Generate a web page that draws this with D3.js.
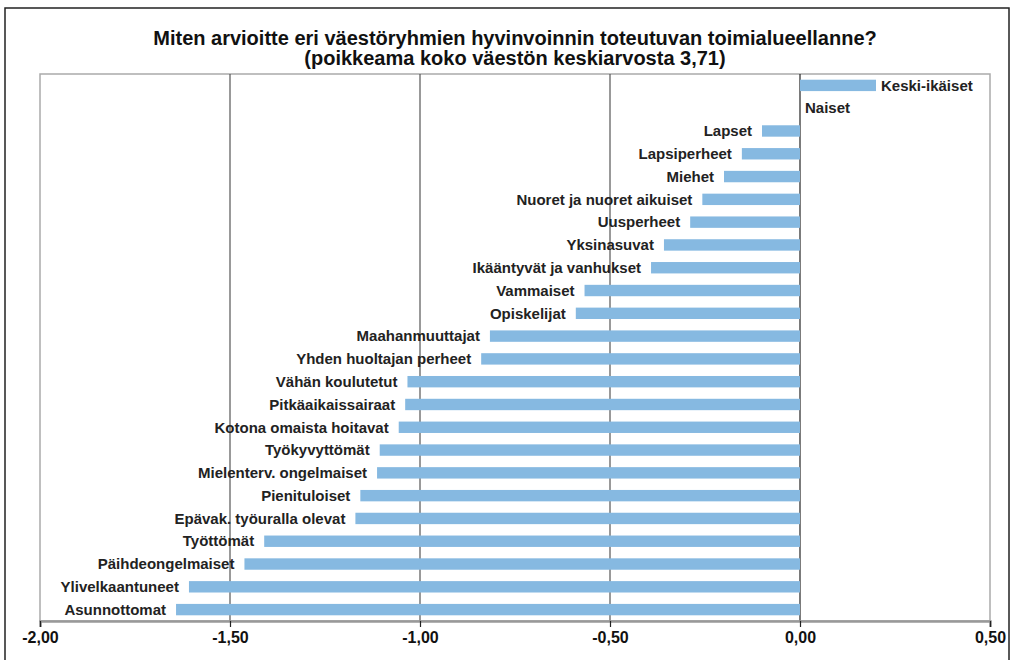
<!DOCTYPE html>
<html>
<head>
<meta charset="utf-8">
<title>Väestöryhmät</title>
<script src="https://d3js.org/d3.v7.min.js"></script>
<style>
body { margin: 0; background: #fff; }
svg { display: block; }
</style>
</head>
<body>
<svg width="1013" height="660"></svg>
<script>
// categories, top to bottom
var groups = ["Keski-ikäiset", "Naiset", "Lapset", "Lapsiperheet", "Miehet",
  "Nuoret ja nuoret aikuiset", "Uusperheet", "Yksinasuvat", "Ikääntyvät ja vanhukset",
  "Vammaiset", "Opiskelijat", "Maahanmuuttajat", "Yhden huoltajan perheet",
  "Vähän koulutetut", "Pitkäaikaissairaat", "Kotona omaista hoitavat", "Työkyvyttömät",
  "Mielenterv. ongelmaiset", "Pienituloiset", "Epävak. työuralla olevat", "Työttömät",
  "Päihdeongelmaiset", "Ylivelkaantuneet", "Asunnottomat"];
// deviation from population mean 3,71
var deviation = [0.20, 0.00, -0.10, -0.153, -0.20,
  -0.257, -0.289, -0.358, -0.392,
  -0.567, -0.590, -0.816, -0.839,
  -1.033, -1.039, -1.056, -1.106,
  -1.113, -1.157, -1.170, -1.410,
  -1.462, -1.608, -1.642];
var ticks = [-2.0, -1.5, -1.0, -0.5, 0.0, 0.5];
var titleLines = ["Miten arvioitte eri väestöryhmien hyvinvoinnin toteutuvan toimialueellanne?",
  "(poikkeama koko väestön keskiarvosta 3,71)"];

var svg = d3.select("svg");
var pLeft = 40, pRight = 990, pTop = 74, pBottom = 621;

// outer frame
svg.append("rect").attr("x", 5).attr("y", 8).attr("width", 1004).attr("height", 700)
  .attr("fill", "none").attr("stroke", "#222").attr("stroke-width", 1.5);

svg.selectAll("text.title").data(titleLines).enter().append("text")
  .attr("class", "title")
  .attr("x", 515).attr("y", function(d, i) { return 45 + i * 20; })
  .attr("text-anchor", "middle")
  .style("font-family", "'Liberation Sans', Arial, sans-serif")
  .style("font-weight", "bold").style("font-size", "20px").style("fill", "#111")
  .text(function(d) { return d; });

var x = d3.scaleLinear().domain([-2, 0.5]).range([pLeft, pRight]);
var y = d3.scaleBand().domain(groups).range([pTop, pBottom]).paddingInner(0.5).paddingOuter(0.25);

// plot box
svg.append("rect").attr("x", pLeft).attr("y", pTop).attr("width", pRight - pLeft).attr("height", pBottom - pTop)
  .attr("fill", "none").attr("stroke", "#aaa").attr("stroke-width", 1.5);

// gridlines
svg.selectAll("line.grid").data(ticks.filter(function(t) { return t > -2 && t < 0.5; })).enter()
  .append("line").attr("class", "grid")
  .attr("x1", function(d) { return x(d); }).attr("x2", function(d) { return x(d); })
  .attr("y1", pTop).attr("y2", pBottom)
  .attr("stroke", function(d) { return d === 0 ? "#222" : "#555"; })
  .attr("stroke-width", 1.2);

// bars
svg.selectAll("rect.bar").data(groups).enter().append("rect")
  .attr("class", "bar")
  .attr("x", function(d, i) { return x(Math.min(0, deviation[i])); })
  .attr("width", function(d, i) { return Math.abs(x(deviation[i]) - x(0)); })
  .attr("y", function(d) { return y(d); })
  .attr("height", y.bandwidth())
  .attr("fill", "#86b9e1");

// labels
svg.selectAll("text.lab").data(groups).enter().append("text")
  .attr("class", "lab")
  .attr("x", function(d, i) { return deviation[i] >= 0 ? x(deviation[i]) + 5 : x(deviation[i]) - 10; })
  .attr("y", function(d) { return y(d) + y.bandwidth() / 2; })
  .attr("dy", "0.35em")
  .attr("text-anchor", function(d, i) { return deviation[i] >= 0 ? "start" : "end"; })
  .style("font-family", "'Liberation Sans', Arial, sans-serif")
  .style("font-weight", "bold").style("font-size", "15px").style("fill", "#222")
  .text(function(d) { return d; });

// x axis
var axis = d3.axisBottom(x).tickValues(ticks).tickSize(6)
  .tickFormat(function(d) { return d3.format(".2f")(d).replace(".", ",").replace("−", "-"); });
var g = svg.append("g").attr("transform", "translate(0," + pBottom + ")").call(axis);
g.select(".domain").attr("stroke", "#999").attr("stroke-width", 2.5);
g.selectAll(".tick line").attr("stroke", "#222").attr("stroke-width", 1.2);
g.selectAll(".tick text")
  .style("font-family", "'Liberation Sans', Arial, sans-serif")
  .style("font-weight", "bold").style("font-size", "16px").style("fill", "#111")
  .attr("y", 11);
</script>
</body>
</html>
